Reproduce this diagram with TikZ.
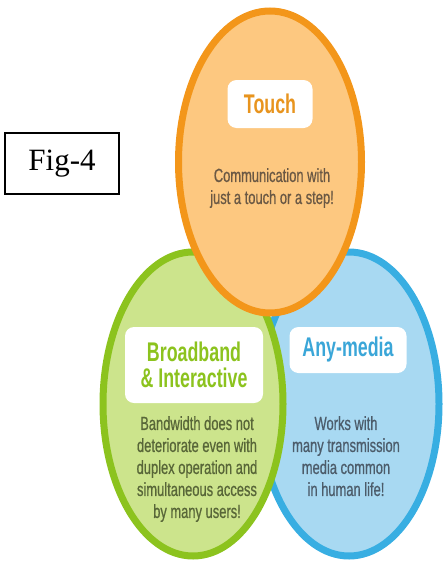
\documentclass[tikz,border=0pt]{standalone}
\usepackage{fontspec}
\setmainfont{Liberation Serif}
\newfontfamily\bodyfont[FakeStretch=0.68,FakeBold=0.6]{Liberation Sans}
\newfontfamily\titlefont[FakeStretch=0.66]{Liberation Sans Bold}
\usetikzlibrary{shapes.geometric}
\definecolor{orfill}{HTML}{FDC880}
\definecolor{ordraw}{HTML}{F3961A}
\definecolor{ortext}{HTML}{E8941E}
\definecolor{orbody}{HTML}{6A5844}
\definecolor{grfill}{HTML}{CCE48C}
\definecolor{grdraw}{HTML}{8CC31E}
\definecolor{grtext}{HTML}{8CC31E}
\definecolor{grbody}{HTML}{586638}
\definecolor{blfill}{HTML}{A8D9F2}
\definecolor{bldraw}{HTML}{38AEE2}
\definecolor{bltext}{HTML}{3AA6D8}
\definecolor{blbody}{HTML}{4C5C6A}
\tikzset{
  x=1pt,y=-1pt,
  bubble/.style={ellipse,line width=7pt,inner sep=0pt},
  tag/.style={fill=white,rounded corners=9pt,inner sep=0pt,align=center,
    font=\titlefont\fontsize{27}{27}\selectfont},
  bodytext/.style={align=center,inner sep=0pt,
    font=\bodyfont\fontsize{19}{22}\selectfont},
}
\begin{document}
\begin{tikzpicture}
\useasboundingbox (0,0) rectangle (443,562);
% ellipses
\node[bubble,draw=bldraw,fill=blfill,minimum width=180,minimum height=304] (blue) at (349,404) {};
\node[bubble,draw=grdraw,fill=grfill,minimum width=180,minimum height=304] (green) at (193,404) {};
\node[bubble,draw=ordraw,fill=orfill,minimum width=183,minimum height=302] (orange) at (270,162) {};
% tags
\node[tag,text=ortext,minimum width=85,minimum height=48] (touch) at (270,104) {Touch};
\node[tag,text=grtext,minimum width=138,minimum height=76] (bb) at (194,365) {Broadband\\[-1pt]\& Interactive};
\node[tag,text=bltext,minimum width=117,minimum height=46] (any) at (348,350) {Any-media};
% body texts
\node[bodytext,text=orbody,anchor=north] (tbody) at (272,168) {Communication with\\just a touch or a step!};
\node[bodytext,text=grbody,anchor=north] (gbody) at (197,416) {Bandwidth does not\\deteriorate even with\\duplex operation and\\simultaneous access\\by many users!};
\node[bodytext,text=blbody,anchor=north] (bbody) at (346,416) {Works with\\many transmission\\media common\\in human life!};
% figure label
\node[draw=black,line width=1.2pt,minimum width=114,minimum height=61,inner sep=0pt,
  font=\fontsize{31}{33}\selectfont] (fig) at (62,163.5) {Fig-4};
\end{tikzpicture}
\end{document}
